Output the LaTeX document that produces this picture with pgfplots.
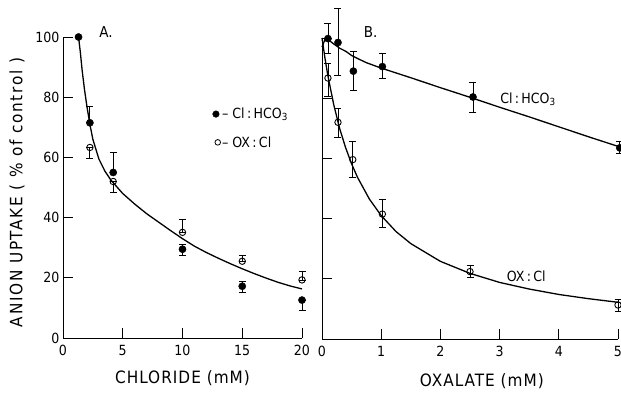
\documentclass[border=0pt]{standalone}
\usepackage{fontspec}
\setmainfont{DejaVu Sans Condensed}
\usepackage{pgfplots}
\pgfplotsset{compat=1.18}
\pgfplotsset{
  base/.style={scale only axis, height=301pt, ymin=0, ymax=100,
    axis lines=left, axis line style={-, line width=0.9pt},
    tick align=inside, major tick length=10pt,
    tick style={line width=0.9pt, black},
    ytick={0,20,40,60,80,100},
    ticklabel style={font=\fontsize{14}{14}\selectfont},
    xticklabel style={yshift=-4pt},
    /pgf/number format/assume math mode=true,
    clip=false,
    every axis x label/.style={at={(axis description cs:0.5,0)}, anchor=center, yshift=-40pt, font=\fontsize{17}{17}\selectfont\addfontfeature{LetterSpace=6}},
    every axis y label/.style={at={([xshift=-46pt,yshift=-5pt]axis description cs:0,0.5)}, anchor=center, rotate=90, font=\fontsize{17}{17}\selectfont\addfontfeature{LetterSpace=10}},
    error bars/error bar style={line width=0.8pt},
    error bars/error mark options={rotate=90, mark size=3.5pt, line width=0.8pt},
  },
  curve/.style={black, line width=1.3pt, no marks, forget plot},
  filled/.style={black, only marks, mark=*, mark size=3.6pt,
    error bars/.cd, y dir=both, y explicit},
  open/.style={black, only marks, mark=o, mark size=3.2pt, mark options={fill=white, line width=0.9pt},
    error bars/.cd, y dir=both, y explicit},
}
\begin{document}
\begin{tikzpicture}
\path[use as bounding box] (0,0) rectangle (621pt,-392pt);
% ---------------- Panel A ----------------
\begin{axis}[base, at={(63pt,-338pt)}, anchor=south west, width=239pt,
  xmin=0, xmax=20, xtick={0,5,10,15,20},
  xlabel={CHLORIDE (mM)}, ylabel={ANION UPTAKE ( \% of control )}]
\addplot[curve] coordinates {(1.3,100) (1.45,95) (1.6,89) (1.8,82.5) (2.0,77) (2.25,71) (2.5,66) (3,59.5) (3.5,55.5) (4,52.5) (5,48) (6,44.5) (7,41.3) (8,38.5) (9,35.7) (10,33) (11,30.5) (12,28.4) (13,26.5) (14,24.7) (15,23) (16,21.4) (17,19.9) (18,18.5) (19,17.3) (20,16.3)};
\addplot[open] coordinates {
  (2.25,63.3) += (0,0) -= (0,3.5)
  (4.2,52) += (0,0) -= (0,3.5)
  (10,35.1) += (0,4.4) -= (0,0)
  (15,25.5) += (0,2) -= (0,0)
  (20,19.3) += (0,2.7) -= (0,0)
};
\addplot[filled] coordinates {
  (1.3,100) += (0,0) -= (0,0)
  (2.25,71.5) += (0,5.5) -= (0,0)
  (4.2,55) += (0,6.6) -= (0,0)
  (10,29.5) += (0,1.5) -= (0,2)
  (15,17.2) += (0,1.5) -= (0,2)
  (20,12.6) += (0,0) -= (0,3.3)
};
% legend marks
\addplot[black, only marks, mark=*, mark size=3.3pt, forget plot] coordinates {(12.8,74.4)};
\addplot[black, only marks, mark=o, mark size=2.8pt, mark options={fill=white, line width=0.8pt}, forget plot] coordinates {(12.95,65)};
\node[anchor=west, inner sep=0pt, font=\fontsize{14}{14}\selectfont] at (axis cs:13.3,74.4) {-- Cl\,:\,HCO\textsubscript{3}};
\node[anchor=west, inner sep=0pt, font=\fontsize{14}{14}\selectfont] at (axis cs:13.3,65) {-- OX\,:\,Cl};
\node[anchor=center, font=\fontsize{15}{15}\selectfont] at (axis cs:3.6,101.5) {A.};
\end{axis}
% ---------------- Panel B ----------------
\begin{axis}[base, at={(322pt,-339pt)}, anchor=south west, width=296pt,
  xmin=0, xmax=5, xtick={0,1,2,3,4,5}, yticklabels={},
  xlabel={OXALATE (mM)},
  every axis x label/.append style={at={(axis description cs:0.54,0)}, yshift=-2pt}]
\addplot[curve] coordinates {(0,97) (0.05,99.5) (0.1,99.5) (0.2,98) (0.3,96.6) (0.4,95.6) (0.5,94.2) (0.6,93.2) (0.75,91.8) (1.0,90) (1.5,86.8) (2,83.5) (2.5,80.3) (3,77) (3.5,73.8) (4,70.5) (4.5,67.2) (5,64)};
\addplot[curve] coordinates {(0,100) (0.05,93.3) (0.1,87.4) (0.2,77.7) (0.3,69.8) (0.4,63.5) (0.5,58.2) (0.6,53.7) (0.8,46.5) (1.0,41.0) (1.25,35.7) (1.5,31.7) (2.0,25.8) (2.5,21.8) (3.0,18.8) (3.5,16.6) (4.0,14.8) (4.5,13.4) (5.0,12.2)};
\addplot[open] coordinates {
  (0.1,86.7) += (0,5) -= (0,6)
  (0.27,72) += (0,4.5) -= (0,5)
  (0.52,59.6) += (0,6) -= (0,6)
  (1.02,41.5) += (0,5) -= (0,4.5)
  (2.5,22.4) += (0,2) -= (0,2)
  (5,11.3) += (0,2) -= (0,2)
};
\addplot[filled] coordinates {
  (0.1,99.8) += (0,5) -= (0,5)
  (0.27,98.5) += (0,11.5) -= (0,11)
  (0.53,89) += (0,6.7) -= (0,6.3)
  (1.02,90.5) += (0,4.3) -= (0,4)
  (2.55,80.4) += (0,5) -= (0,5)
  (5.03,63.5) += (0,2) -= (0,2)
};
\node[anchor=center, font=\fontsize{14}{14}\selectfont] at (axis cs:3.48,79.7) {Cl\,:\,HCO\textsubscript{3}};
\node[anchor=center, font=\fontsize{14}{14}\selectfont] at (axis cs:3.45,20.8) {OX\,:\,Cl};
\node[anchor=center, font=\fontsize{15}{15}\selectfont] at (axis cs:0.82,102) {B.};
\end{axis}
\end{tikzpicture}
\end{document}
